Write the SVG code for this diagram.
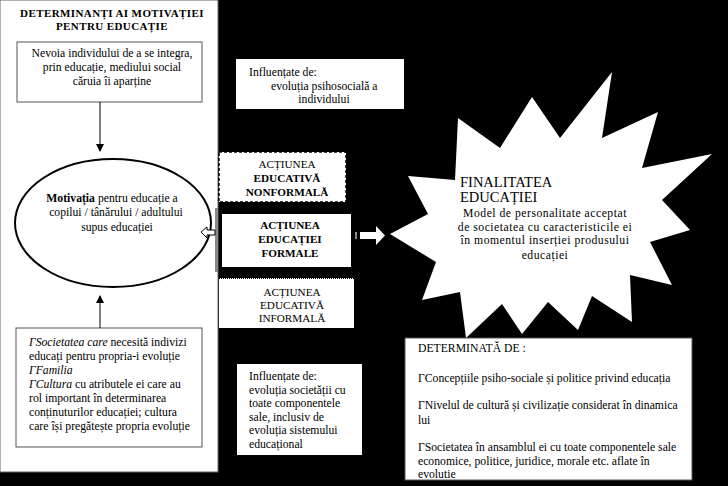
<svg xmlns="http://www.w3.org/2000/svg" width="728" height="486" viewBox="0 0 728 486" font-family="Liberation Serif, serif">
<style>
.t{font-family:"Liberation Serif","Times New Roman",serif;font-size:11.7px;fill:#000}
.b{font-weight:bold}
.i{font-style:italic}
.c{text-anchor:middle}
.h{font-size:11px;letter-spacing:0.4px}
.s{font-size:11.2px}
.f{font-size:14.5px}
.m{letter-spacing:0.5px}
.box{fill:#fff;stroke:#555;stroke-width:1}
.wb{fill:#fff}
.ln{stroke:#000;stroke-width:1;fill:none}
</style>
<defs>
<marker id="ah" markerWidth="8" markerHeight="8" refX="7" refY="4" orient="auto" markerUnits="userSpaceOnUse">
<path d="M0,0 L8,4 L0,8 z" fill="#000"/>
</marker>
</defs>
<rect x="0" y="0" width="728" height="486" fill="#000"/>

<g id="panel">
<rect x="0" y="0" width="218" height="472" fill="#fff" stroke="#666" stroke-width="1"/>
<text class="t b c h" x="112" y="16.5">DETERMINANȚI AI MOTIVAȚIEI</text>
<text class="t b c h" x="112" y="29.5">PENTRU EDUCAȚIE</text>
</g>

<g id="need">
<rect class="box" x="17" y="42" width="185" height="60"/>
<text class="t c" x="112" y="57">Nevoia individului de a se integra,</text>
<text class="t c" x="112" y="71">prin educație, mediului social</text>
<text class="t c" x="112" y="85">căruia îi aparține</text>
</g>

<g id="motivation">
<ellipse cx="113" cy="223" rx="98" ry="64" fill="#fff" stroke="#000" stroke-width="2"/>
<text class="t c" x="112" y="202"><tspan class="b">Motivația</tspan> pentru educație a</text>
<text class="t c" x="116" y="216">copilui /  tânărului / adultului</text>
<text class="t c" x="117" y="231">supus educației</text>
</g>

<g id="factors">
<rect class="box" x="16" y="328" width="186" height="119"/>
<text class="t" x="29" y="346"><tspan class="i">ΓSocietatea care</tspan> necesită indivizi</text>
<text class="t" x="29" y="360">educați pentru propria-i evoluție</text>
<text class="t i" x="29" y="374">ΓFamilia</text>
<text class="t" x="29" y="388"><tspan class="i">ΓCultura</tspan> cu atributele ei care au</text>
<text class="t" x="29" y="402">rol important în determinarea</text>
<text class="t" x="29" y="416">conținuturilor educației; cultura</text>
<text class="t" x="29" y="430">care își pregătește propria evoluție</text>
</g>

<g id="influence-top">
<rect class="wb" x="236" y="59" width="168" height="50"/>
<text class="t" x="249" y="76">Influențate de:</text>
<text class="t" x="271" y="90">evoluția psihosocială  a</text>
<text class="t c" x="324" y="103">individului</text>
</g>

<g id="nonformal">
<rect x="219" y="152" width="127" height="50" fill="#fff" stroke="#000" stroke-width="1.5" stroke-dasharray="3,2"/>
<text class="t c s" x="287" y="168">ACȚIUNEA</text>
<text class="t b c s" x="287" y="182">EDUCATIVĂ</text>
<text class="t b c s" x="287" y="196">NONFORMALĂ</text>
</g>

<g id="formal">
<rect x="221" y="213" width="131" height="55" fill="#fff" stroke="#000" stroke-width="2"/>
<text class="t b c s" x="290" y="229">ACȚIUNEA</text>
<text class="t b c s" x="290" y="243">EDUCAȚIEI</text>
<text class="t b c s" x="290" y="257">FORMALE</text>
</g>

<g id="informal">
<rect class="wb" x="219" y="278" width="135" height="50"/>
<line x1="219" y1="278.5" x2="354" y2="278.5" stroke="#000" stroke-width="1" stroke-dasharray="1,1"/>
<text class="t c s" x="292" y="296">ACȚIUNEA</text>
<text class="t c s" x="292" y="309">EDUCATIVĂ</text>
<text class="t c s" x="292" y="322">INFORMALĂ</text>
</g>

<g id="influence-bottom">
<rect class="wb" x="237" y="364" width="125" height="91"/>
<text class="t" x="249" y="380">Influențate de:</text>
<text class="t" x="249" y="394">evoluția societății cu</text>
<text class="t" x="249" y="407">toate componentele</text>
<text class="t" x="249" y="421">sale, inclusiv de</text>
<text class="t" x="249" y="434">evoluția sistemului</text>
<text class="t" x="249" y="448">educațional</text>
</g>

<g id="finality">
<polygon fill="#fff" points="390,234 428,214 408,176 455,180 458,118 500,148 532,97 560,138 612,72 602,138 658,112 642,168 712,154 662,200 690,230 650,242 672,285 630,275 632,322 592,296 578,330 548,302 522,334 502,304 466,338 460,292 422,300 436,262"/>
<text class="t f" x="460" y="187">FINALITATEA</text>
<text class="t f" x="460" y="202">EDUCAȚIEI</text>
<text class="t c m" x="545" y="217">Model de personalitate acceptat</text>
<text class="t c m" x="545" y="230.5">de societatea cu caracteristicile ei</text>
<text class="t c m" x="545" y="244">în momentul inserției produsului</text>
<text class="t c m" x="545" y="259">educației</text>
</g>

<g id="determined">
<rect class="box" x="405" y="338" width="287" height="142"/>
<text class="t" x="418" y="352">DETERMINATĂ DE :</text>
<text class="t" x="418" y="382">ΓConcepțiile psiho-sociale și politice privind educația</text>
<text class="t" x="418" y="409">ΓNivelul de cultură și civilizație considerat în dinamica</text>
<text class="t" x="418" y="424">lui</text>
<text class="t" x="418" y="451">ΓSocietatea în ansamblul ei cu toate componentele sale</text>
<text class="t" x="418" y="465">economice, politice, juridice,  morale etc. aflate în</text>
<text class="t" x="418" y="478">evolutie</text>
</g>

<g id="connectors">
<line class="ln" x1="100" y1="102" x2="100" y2="151" marker-end="url(#ah)"/>
<line class="ln" x1="100" y1="328" x2="100" y2="296" marker-end="url(#ah)"/>
<rect x="215" y="208" width="3" height="64" fill="#888"/>
<polygon points="201,232 207,227 207,230 215,230 215,235 207,235 207,238" fill="#fff" stroke="#000" stroke-width="1"/>
<rect x="355" y="232" width="2" height="7" fill="#888"/>
<polygon points="360,232 376,232 376,226 385,235.5 376,245 376,239 360,239" fill="#fff"/>
</g>
</svg>
